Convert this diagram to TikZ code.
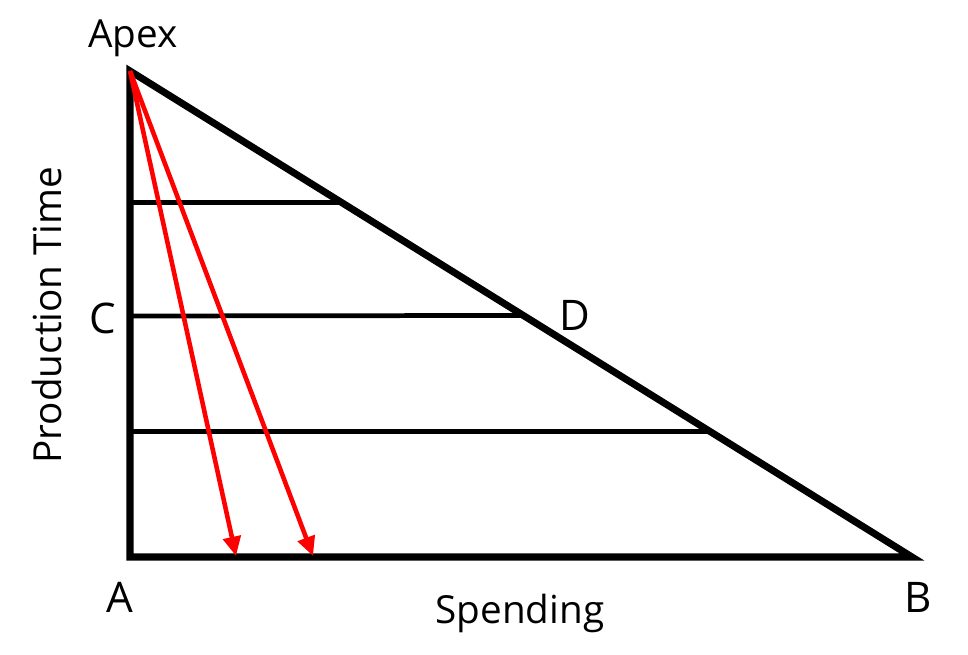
\documentclass[tikz,border=0pt]{standalone}
\usepackage{fontspec}
\setmainfont{Open Sans}
\usetikzlibrary{calc,arrows.meta}
\begin{document}
\begin{tikzpicture}[x=0.02cm,y=-0.02cm,font=\fontsize{22}{26}\selectfont]

% Triangolo

\begin{scope}
\useasboundingbox (0,0) rectangle (968,655);
\coordinate (apex) at (130,71);
\coordinate (a) at (130,557);
\path (a) -- +(782,0) coordinate (b);
\coordinate (c) at (130,316);
\coordinate (d) at ($(apex)!0.503!(b)$);
\coordinate (q1) at ($(apex)!0.27!(b)$);
\coordinate (q3) at ($(apex)!0.742!(b)$);
\coordinate (r1) at (236,556);
\coordinate (r2) at (313,556);

\draw[line width=2.7pt] (a |- q1) -- (q1);
\draw[line width=2.7pt] (c) -- (d);
\draw[line width=2.7pt] (a |- q3) -- (q3);

\draw[line width=4pt] (apex) -- (a) -- (b) -- cycle;

\draw[red, line width=2.6pt, -{Triangle[length=11pt,width=10pt]}] (apex) -- (r1);
\draw[red, line width=2.6pt, -{Triangle[length=11pt,width=10pt]}] (apex) -- (r2);

\node (apexlab) at (133,38) {Apex};
\node (clab) at (103,318) {\fontsize{24}{28}\selectfont C};
\node (dlab) at (575,315) {\fontsize{24}{28}\selectfont D};
\node (alab) at (120,597) {\fontsize{24}{28}\selectfont A};
\node (blab) at (918,597) {\fontsize{24}{28}\selectfont B};
\node (xlab) at (520,613) {Spending};
\node[rotate=90] (ylab) at (47,315) {Production Time};

\end{scope}

\end{tikzpicture}
\end{document}
